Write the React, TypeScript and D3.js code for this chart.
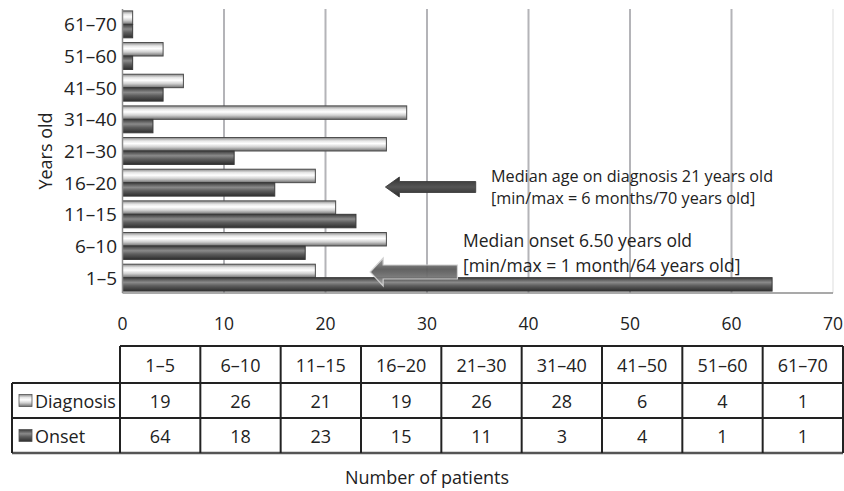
import React from "react";
import * as d3 from "d3";

// Age groups (years old), bottom to top on the chart
const categories = ["1–5", "6–10", "11–15", "16–20", "21–30", "31–40", "41–50", "51–60", "61–70"];
// Number of patients per age group
const diagnosis = [19, 26, 21, 19, 26, 28, 6, 4, 1];
const onset = [64, 18, 23, 15, 11, 3, 4, 1, 1];
const xTicks = [0, 10, 20, 30, 40, 50, 60, 70];
const seriesNames = ["Diagnosis", "Onset"];

const W = 844;
const H = 491;
const FONT = "'Open Sans', sans-serif";

const plot = { left: 122.5, right: 833, top: 9, bottom: 293 };
const table = { labelLeft: 12, left: 120, right: 843, rows: [346, 383, 418, 453] };

export default function App() {
  const x = d3.scaleLinear().domain([0, 70]).range([plot.left, plot.right]);
  const y = d3
    .scaleBand<string>()
    .domain(categories)
    .range([plot.bottom, plot.top])
    .paddingInner(0.15)
    .paddingOuter(0.06);
  const bh = y.bandwidth() / 2;

  const col = d3.scaleBand<string>().domain(categories).range([table.left, table.right]);

  const arrow = (tip: number, tail: number, cy: number, headLen: number, headHalf: number, shaftHalf: number) =>
    `M${tip},${cy} L${tip + headLen},${cy - headHalf} L${tip + headLen},${cy - shaftHalf} L${tail},${cy - shaftHalf} L${tail},${cy + shaftHalf} L${tip + headLen},${cy + shaftHalf} L${tip + headLen},${cy + headHalf} Z`;

  const tableRows = [diagnosis, onset];

  return (
    <svg width={W} height={H} style={{ position: "absolute", left: 0, top: 0, background: "#fff" }} fontFamily={FONT}>
      <defs>
        <linearGradient id="gDiag" x1="0" y1="0" x2="0" y2="1">
          <stop offset="0" stopColor="#8a8a8a" />
          <stop offset="0.25" stopColor="#e6e6e6" />
          <stop offset="0.45" stopColor="#ffffff" />
          <stop offset="0.7" stopColor="#d0d0d0" />
          <stop offset="1" stopColor="#6e6e6e" />
        </linearGradient>
        <linearGradient id="gOnset" x1="0" y1="0" x2="0" y2="1">
          <stop offset="0" stopColor="#3c3c3c" />
          <stop offset="0.35" stopColor="#8a8a8a" />
          <stop offset="0.6" stopColor="#5e5e5e" />
          <stop offset="1" stopColor="#2e2e2e" />
        </linearGradient>
        <linearGradient id="gArrowDark" x1="0" y1="0" x2="0" y2="1">
          <stop offset="0" stopColor="#2f2f2f" />
          <stop offset="0.5" stopColor="#555" />
          <stop offset="1" stopColor="#2a2a2a" />
        </linearGradient>
        <linearGradient id="gArrowLight" x1="0" y1="0" x2="0" y2="1">
          <stop offset="0" stopColor="#9a9a9a" />
          <stop offset="0.4" stopColor="#5a5a5a" />
          <stop offset="0.7" stopColor="#777" />
          <stop offset="1" stopColor="#bdbdbd" />
        </linearGradient>
      </defs>

      {/* gridlines */}
      {xTicks.slice(1, -1).map((t) => (
        <line key={t} x1={x(t)} x2={x(t)} y1={plot.top} y2={plot.bottom} stroke="#b4b4b8" strokeWidth={2} />
      ))}
      <line x1={plot.right} x2={plot.right} y1={plot.top} y2={plot.bottom} stroke="#e8e8e8" strokeWidth={1.5} />

      {/* bars */}
      {categories.map((c, i) => (
        <g key={c}>
          <rect
            x={x(0)}
            y={y(c) as number}
            width={x(diagnosis[i]) - x(0)}
            height={bh}
            fill="url(#gDiag)"
            stroke="#4a4a4a"
            strokeWidth={1}
          />
          <rect
            x={x(0)}
            y={(y(c) as number) + bh}
            width={x(onset[i]) - x(0)}
            height={bh}
            fill="url(#gOnset)"
            stroke="#3a3a3a"
            strokeWidth={1}
          />
        </g>
      ))}

      {/* axis lines */}
      <line x1={plot.left} x2={plot.left} y1={plot.top} y2={plot.bottom} stroke="#8c8c8c" strokeWidth={1.5} />
      <line x1={plot.left} x2={plot.right} y1={plot.bottom} y2={plot.bottom} stroke="#8c8c8c" strokeWidth={1.5} />

      {/* y tick labels */}
      {categories.map((c) => (
        <text
          key={c}
          x={117}
          y={(y(c) as number) + y.bandwidth() / 2}
          textAnchor="end"
          dominantBaseline="central"
          fontSize={19}
          fill="#222"
        >
          {c}
        </text>
      ))}
      <text
        transform={`translate(45,${(plot.top + plot.bottom) / 2}) rotate(-90)`}
        textAnchor="middle"
        dominantBaseline="central"
        fontSize={18}
        fill="#222"
      >
        Years old
      </text>

      {/* x tick labels */}
      {xTicks.map((t) => (
        <text key={t} x={x(t)} y={323} textAnchor="middle" dominantBaseline="central" fontSize={17.5} fill="#222">
          {t}
        </text>
      ))}

      {/* annotations */}
      <path d={arrow(x(25.9), x(34.8), 187, 14, 10, 5.5)} fill="url(#gArrowDark)" stroke="#333" strokeWidth={0.8} />
      <text x={491} y={176} dominantBaseline="central" fontSize={16.2} fill="#222">
        Median age on diagnosis 21 years old
      </text>
      <text x={491} y={198} dominantBaseline="central" fontSize={16.2} fill="#222">
        [min/max = 6 months/70 years old]
      </text>

      <path d={arrow(x(24.4), x(33), 272, 13, 14, 7)} fill="url(#gArrowLight)" stroke="#d0d0d0" strokeWidth={1.2} opacity={0.95} />
      <text x={463} y={240} dominantBaseline="central" fontSize={17.5} fill="#222">
        Median onset 6.50 years old
      </text>
      <text x={463} y={265} dominantBaseline="central" fontSize={17.5} fill="#222">
        [min/max = 1 month/64 years old]
      </text>

      {/* data table */}
      <g stroke="#222" strokeWidth={2}>
        <line x1={table.left} x2={table.right} y1={table.rows[0]} y2={table.rows[0]} />
        <line x1={table.labelLeft} x2={table.right} y1={table.rows[1]} y2={table.rows[1]} />
        <line x1={table.labelLeft} x2={table.right} y1={table.rows[2]} y2={table.rows[2]} />
        <line x1={table.labelLeft} x2={table.right} y1={table.rows[3]} y2={table.rows[3]} stroke="#555" strokeWidth={2.5} />
        <line x1={table.labelLeft} x2={table.labelLeft} y1={table.rows[1]} y2={table.rows[3]} />
        {categories.map((c) => (
          <line key={c} x1={col(c)} x2={col(c)} y1={table.rows[0]} y2={table.rows[3]} />
        ))}
        <line x1={table.right} x2={table.right} y1={table.rows[0]} y2={table.rows[3]} />
      </g>
      {categories.map((c) => (
        <text
          key={c}
          x={(col(c) as number) + col.bandwidth() / 2}
          y={(table.rows[0] + table.rows[1]) / 2}
          textAnchor="middle"
          dominantBaseline="central"
          fontSize={18}
          fill="#222"
        >
          {c}
        </text>
      ))}
      {tableRows.map((vals, r) => (
        <g key={r}>
          <rect
            x={19}
            y={(table.rows[r + 1] + table.rows[r + 2]) / 2 - 6}
            width={13}
            height={12}
            fill={r === 0 ? "url(#gDiag)" : "url(#gOnset)"}
            stroke="#555"
            strokeWidth={0.8}
          />
          <text
            x={35}
            y={(table.rows[r + 1] + table.rows[r + 2]) / 2}
            dominantBaseline="central"
            fontSize={18}
            fill="#222"
          >
            {seriesNames[r]}
          </text>
          {vals.map((v, i) => (
            <text
              key={i}
              x={(col(categories[i]) as number) + col.bandwidth() / 2}
              y={(table.rows[r + 1] + table.rows[r + 2]) / 2}
              textAnchor="middle"
              dominantBaseline="central"
              fontSize={18}
              fill="#222"
            >
              {v}
            </text>
          ))}
        </g>
      ))}

      <text x={427} y={477} textAnchor="middle" dominantBaseline="central" fontSize={18} fill="#222">
        Number of patients
      </text>
    </svg>
  );
}
